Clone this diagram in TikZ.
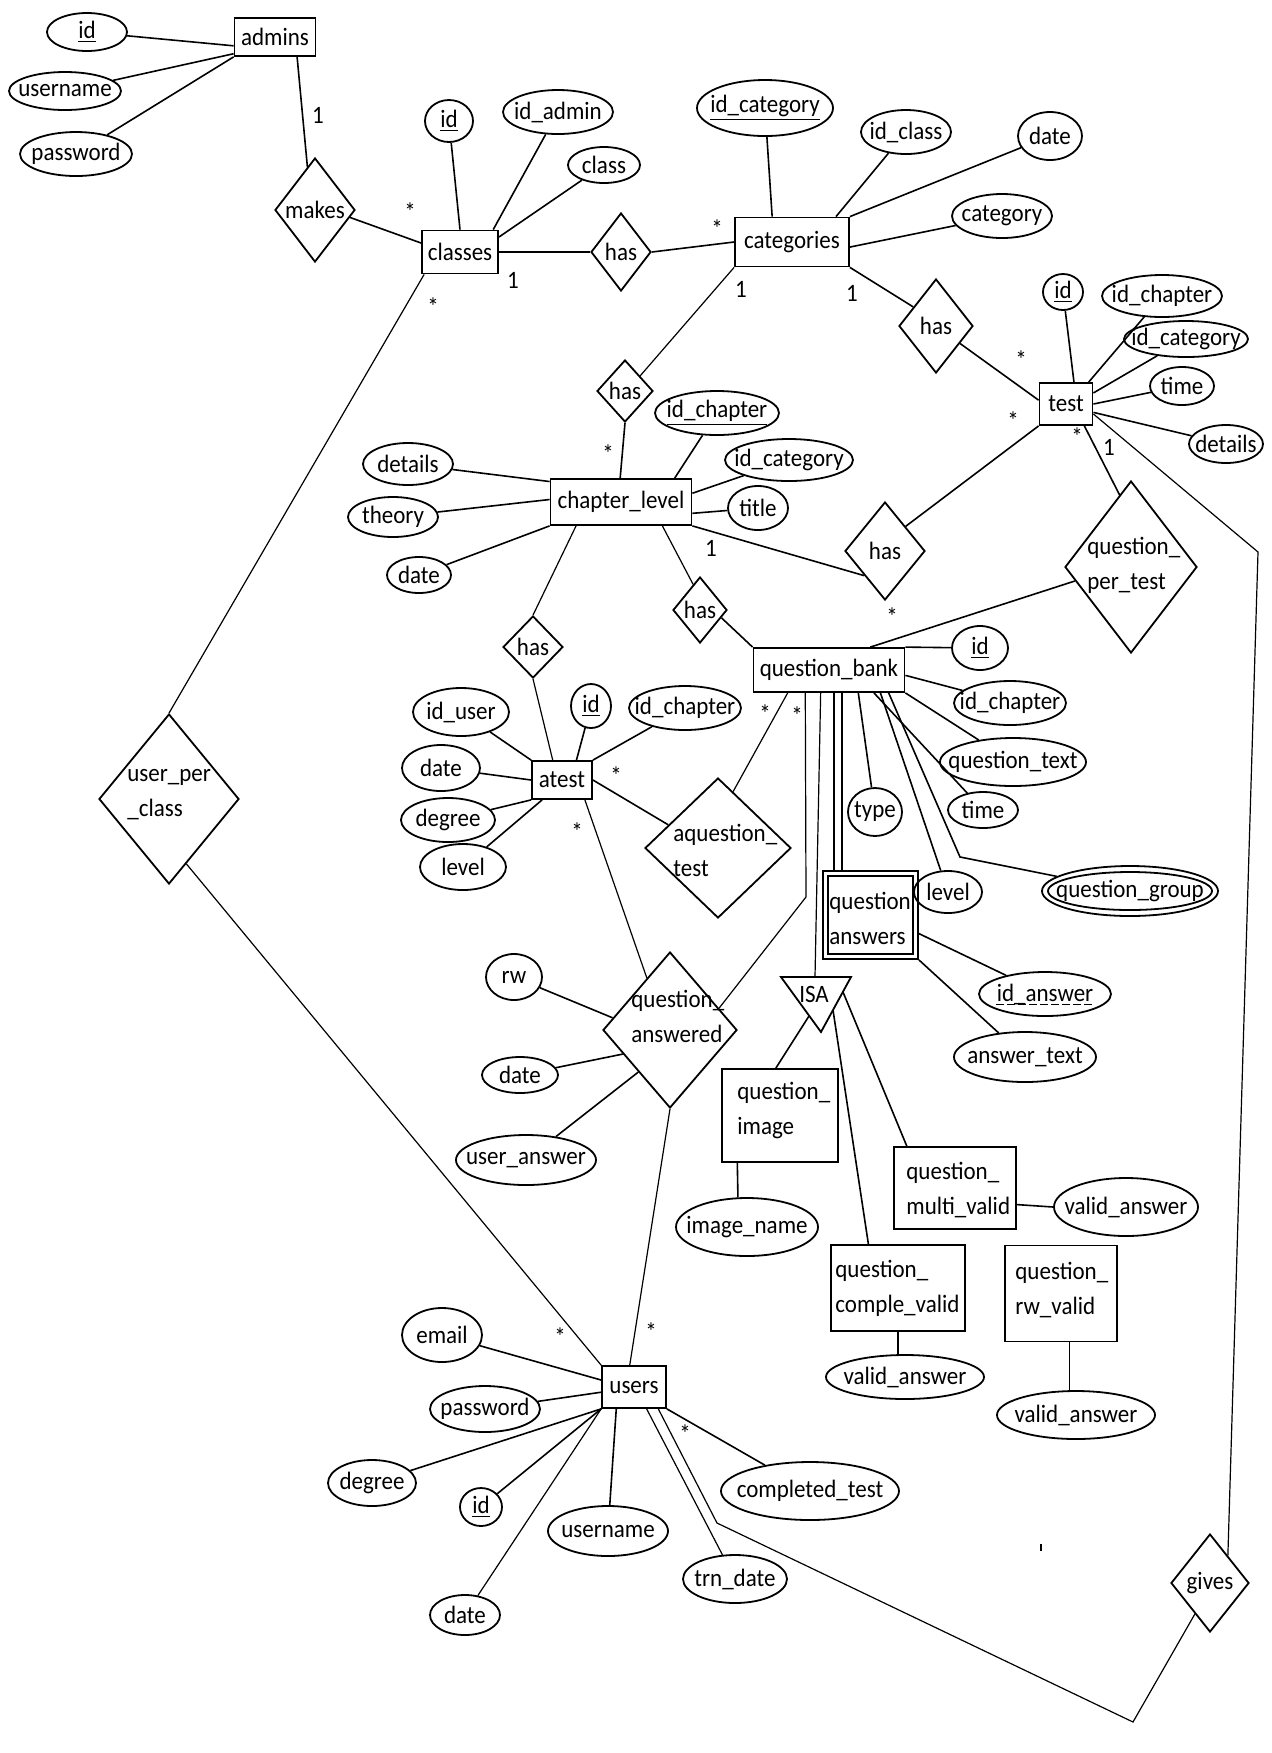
\documentclass[tikz,border=0pt]{standalone}
\usepackage{fontspec}
\setmainfont{Carlito}[FakeStretch=0.92]
\usetikzlibrary{shapes.geometric}
\newcommand\Ent[6]{\node[ent,minimum width=#4pt,minimum height=#5pt,label={center:#6}] (#1) at (#2,#3) {};}
\newcommand\Att[6]{\node[att,minimum width=#4pt,minimum height=#5pt,label={center:#6}] (#1) at (#2,#3) {};}
\newcommand\Rel[6]{\node[rel,minimum width=#4pt,minimum height=#5pt,label={center:#6}] (#1) at (#2,#3) {};}
\begin{document}
\begin{tikzpicture}[x=0.5pt,y=-0.5pt,
 font=\fontsize{12.5}{17.5}\selectfont,
 ent/.style={draw,rectangle,inner sep=0pt,line width=0.9pt},
 att/.style={draw,ellipse,inner sep=0pt,line width=0.9pt},
 rel/.style={draw,diamond,inner sep=0pt,line width=0.9pt},
 con/.style={line width=0.8pt},
 lite/.style={line width=0.6pt},
 card/.style={inner sep=0pt},
 txt/.style={inner sep=0pt,align=left,anchor=west},
 every label/.style={inner sep=0pt}]
\path[use as bounding box,fill=white] (0,0) rectangle (1272,1753);

% ---------- entities
\Ent{admins}{275}{37}{40.5}{19}{admins}
\Ent{classes}{460}{252}{38}{21.5}{classes}
\Ent{categories}{792}{242}{57}{24.5}{categories}
\Ent{test}{1066}{404}{26.5}{21}{test}
\Ent{chapter}{621}{502}{70.5}{23}{chapter\_level}
\Ent{qb}{829}{670}{75.5}{22}{question\_bank}
\Ent{atest}{562}{780}{30}{19}{atest}
\Ent{users}{634}{1387}{32}{21}{users}
\Ent{qi}{780}{1115.5}{58}{46.5}{}
\Ent{qmv}{955}{1188}{61}{41}{}
\Ent{qcv}{898}{1288}{67}{43}{}
\Ent{qrv}{1061}{1293.5}{56}{48}{}
\Ent{qans}{870.5}{915}{47.5}{44}{}
\node[ent,minimum width=42.5pt,minimum height=39pt] (qansin) at (870.5,915) {};

\node[txt] (qitxt) at (737,1110) {question\_\\image};
\node[txt] (qmvtxt) at (906,1190) {question\_\\multi\_valid};
\node[txt] (qcvtxt) at (835,1288) {question\_\\comple\_valid};
\node[txt] (qrvtxt) at (1015,1290) {question\_\\rw\_valid};
\node[txt] (qanstxt) at (829,918) {question\\answers};

% ---------- relationships
\Rel{makes}{315}{210}{40}{52}{makes}
\Rel{has1}{621}{252}{30}{39}{has}
\Rel{has2}{625}{391}{28}{31}{has}
\Rel{has3}{936}{326}{37}{47}{has}
\Rel{has4}{885}{551}{40}{49}{has}
\Rel{has5}{700}{610}{27}{33}{has}
\Rel{has6}{533}{647}{30}{31}{has}
\Rel{qpt}{1131}{567}{66}{86}{}
\Rel{aqt}{718}{848}{73}{70}{}
\Rel{qa}{670}{1030}{67}{78}{}
\Rel{upc}{169}{799}{70}{85}{}
\Rel{gives}{1210}{1583}{39}{49}{gives}

\node[txt] (qpttxt) at (1087,565) {question\_\\per\_test};
\node[txt] (aqttxt) at (673,850) {aquestion\_\\test};
\node[txt] (qatxt) at (631,1016) {question\_\\answered};
\node[txt] (upctxt) at (127,795) {user\_per\\\_class};

% ISA
\coordinate (isa1) at (781,977);
\coordinate (isa2) at (851,977);
\coordinate (isa3) at (821,1032);
\draw[line width=0.9pt] (isa1) -- (isa2) -- (isa3) -- cycle;
\node[inner sep=0pt] (isa) at (814,994) {ISA};
\coordinate (isaT) at (815,977);
\coordinate (isaL) at (809,1016);
\coordinate (isaR1) at (833,1010);
\coordinate (isaR2) at (843,992);

% ---------- attributes
\Att{a_id}{87}{32}{40}{19}{\underline{id}}
\Att{a_user}{65}{91}{56}{19}{username}
\Att{a_pass}{76}{154}{56}{22}{password}
\Att{c_id}{449}{121}{24}{21}{\underline{id}}
\Att{c_idadmin}{558}{112}{55}{22}{id\_admin}
\Att{c_class}{604}{165}{36}{18}{class}
\Att{cat_id}{765}{108}{68}{28}{\underline{id\_category}}
\Att{cat_idclass}{906}{132}{45}{22}{id\_class}
\Att{cat_date}{1050}{136}{32}{24}{date}
\Att{cat_cat}{1002}{216}{50}{22}{category}
\Att{t_id}{1063}{292}{20}{18}{\underline{id}}
\Att{t_idch}{1162}{296}{60}{21}{id\_chapter}
\Att{t_idcat}{1186}{339}{62}{18}{id\_category}
\Att{t_time}{1182}{386}{32}{19}{time}
\Att{t_det}{1226}{444}{37}{19}{details}
\Att{ch_id}{717}{413}{62}{22}{\underline{id\_chapter}}
\Att{ch_idcat}{789}{460}{64}{21}{id\_category}
\Att{ch_title}{758}{508}{30}{22}{title}
\Att{ch_det}{408}{464}{45}{21}{details}
\Att{ch_theory}{393}{517}{45}{20}{theory}
\Att{ch_date}{419}{575}{32}{18}{date}
\Att{at_iduser}{461}{712}{48}{24}{id\_user}
\Att{at_id}{591}{706}{20}{22}{\underline{id}}
\Att{at_idch}{685}{708}{56}{22}{id\_chapter}
\Att{at_date}{441}{768}{39}{23}{date}
\Att{at_degree}{448}{820}{47}{22}{degree}
\Att{at_level}{463}{867}{43}{23}{level}
\Att{q_id}{980}{648}{28}{22}{\underline{id}}
\Att{q_idch}{1010}{703}{56}{22}{id\_chapter}
\Att{q_text}{1013}{762}{73}{24}{question\_text}
\Att{q_time}{983}{810}{35}{18}{time}
\Att{q_type}{875}{812}{27}{24}{type}
\Att{q_level}{948}{892}{34}{21}{level}
\node[att,minimum width=88pt,minimum height=25pt] (q_group) at (1130,891) {};
\node[att,minimum width=82pt,minimum height=19pt,label={center:question\_group}] (q_groupin) at (1130,891) {};
\node[att,minimum width=66pt,minimum height=22pt,label={[name=ansidT]center:id\_answer}] (ans_id) at (1045,994) {};
\draw[line width=0.7pt,dash pattern=on 4pt off 1.5pt] ([yshift=-1.8pt]ansidT.base west) -- ([yshift=-1.8pt]ansidT.base east);
\Att{ans_text}{1025}{1057}{71}{25}{answer\_text}
\Att{rw}{514}{977}{28}{23}{rw}
\Att{qa_date}{520}{1075}{38}{18}{date}
\Att{qa_uans}{526}{1160}{70}{25}{user\_answer}
\Att{imgname}{747}{1227}{71}{29}{image\_name}
\Att{va1}{1126}{1207}{72}{29}{valid\_answer}
\Att{va2}{905}{1377}{79}{22}{valid\_answer}
\Att{va3}{1076}{1415}{79}{24}{valid\_answer}
\Att{u_email}{442}{1335}{40}{27}{email}
\Att{u_pass}{485}{1409}{55}{23}{password}
\Att{u_degree}{372}{1483}{44}{23}{degree}
\Att{u_id}{481}{1507}{21}{19}{\underline{id}}
\Att{u_date}{465}{1615}{35}{20}{date}
\Att{u_user}{608}{1531}{60}{25}{username}
\Att{u_trn}{735}{1579}{52}{24}{trn\_date}
\Att{u_comp}{810}{1491}{89}{29}{completed\_test}

% ---------- helper coordinates
\coordinate (gA) at (1258,552);
\coordinate (gC) at (717,1523);
\coordinate (gD) at (1133,1722);
\coordinate (qaB) at (806,897);
\coordinate (gB) at (960,857);

% ---------- connectors
\draw[con] (a_id) -- (admins.192);
\draw[con] (a_user) -- (admins.202);
\draw[con] (a_pass) -- (admins.south west);
\draw[con] (admins.-42) -- (makes.100);
\draw[con] (makes.-12) -- (classes.167);
\draw[con] (c_id) -- (classes.north);
\draw[con] (c_idadmin) -- (classes.34);
\draw[con] (c_class) -- (classes.21);
\draw[con] (classes.east) -- (has1.west);
\draw[con] (has1.east) -- (categories.west);
\draw[lite] (classes.212) -- (upc.north);
\draw[lite] (upc.-75) -- (users.north west);
\draw[con] (cat_id) -- (categories.128);
\draw[con] (cat_idclass) -- (categories.30);
\draw[con] (cat_date) -- (categories.north east);
\draw[con] (cat_cat) -- (categories.-5);
\draw[lite] (categories.south west) -- (has2.45);
\draw[con] (categories.south east) -- (has3.140);
\draw[con] (has3.-36) -- (test.172);
\draw[con] (t_id) -- (test.70);
\draw[con] (t_idch) -- (test.44);
\draw[con] (t_idcat) -- (test.22);
\draw[con] (t_time) -- (test.east);
\draw[con] (t_det) -- (test.-17);
\draw[con] (test.south west) -- (has4.50);
\draw[con] (test.-50) -- (qpt.99);
\draw[lite] (test.-20) -- (gA) -- (gives.57);
\draw[con] (ch_id) -- (chapter.24);
\draw[con] (ch_idcat) -- (chapter.7);
\draw[con] (ch_title) -- (chapter.-9);
\draw[con] (ch_det) -- (chapter.164);
\draw[con] (ch_theory) -- (chapter.178);
\draw[con] (ch_date) -- (chapter.south west);
\draw[con] (has2.south) -- (chapter.92);
\draw[con] (chapter.south east) -- (has4.230);
\draw[lite] (chapter.-30) -- (has5.105);
\draw[con] (has5.-20) -- (qb.north west);
\draw[lite] (chapter.208) -- (has6.north);
\draw[lite] (has6.south) -- (atest.115);
\draw[con] (at_iduser) -- (atest.north west);
\draw[con] (at_id) -- (atest.54);
\draw[con] (at_idch) -- (atest.north east);
\draw[con] (at_date) -- (atest.west);
\draw[con] (at_degree) -- (atest.south west);
\draw[con] (at_level) -- (atest.225);
\draw[con] (atest.east) -- (aqt.155);
\draw[lite] (aqt.75) -- (qb.209);
\draw[lite] (atest.-41) -- (qa.114);
\draw[con] (q_id) -- (qb.north east);
\draw[con] (q_idch) -- (qb.-4);
\draw[con] (q_text) -- (qb.south east);
\draw[con] (qpt.194) -- (qb.29);
\draw[lite] (qb.224) -- (qaB) -- (qa.24);
\draw[lite] (qb.250) -- (isaT);
\draw[con] (qb.283) -- (qb.283 |- qans.north);
\draw[con] (qb.299) -- (qb.299 |- qans.north);
\draw[con] (qb.-38) -- (q_type);
\draw[con] (qb.-27) -- (q_time);
\draw[con] (qb.-24) -- (q_level);
\draw[con] (qb.-21) -- (gB) -- (q_group);
\draw[con] (qans.-21) -- (ans_id);
\draw[con] (qans.south east) -- (ans_text);
\draw[con] (isaL) -- (qi.95);
\draw[con] (isaR1) -- (qcv.124);
\draw[con] (isaR2) -- (qmv.139);
\draw[con] (qi.228) -- (imgname.107);
\draw[con] (qmv.-15) -- (va1.west);
\draw[con] (qcv.south) -- (qcv.south |- va2.north);
\draw[con] (qrv.-80) -- (qrv.-80 |- va3.north);
\draw[con] (rw) -- (qa.168);
\draw[con] (qa_date) -- (qa.207);
\draw[con] (qa_uans) -- (qa.233);
\draw[lite] (qa.south) -- (users.101);
\draw[con] (u_email) -- (users.168);
\draw[con] (u_pass) -- (users.189);
\draw[con] (u_degree) -- (users.south west);
\draw[con] (u_id) -- (users.south west);
\draw[lite] (u_date) -- (users.south west);
\draw[con] (u_user) -- (users.231);
\draw[lite] (u_trn) -- (users.-60);
\draw[con] (u_comp) -- (users.south east);
\draw[lite] (users.-42) -- (gC) -- (gD) -- (gives.244);
\draw[line width=0.8pt] (1041,1544) -- (1041,1551);

% ---------- cardinalities
\node[card] (m1) at (318,115) {1};
\node[card] (m2) at (410,212) {*};
\node[card] (m3) at (513,280) {1};
\node[card] (m4) at (433,307) {*};
\node[card] (m5) at (717,229) {*};
\node[card] (m6) at (741,289) {1};
\node[card] (m7) at (852,293) {1};
\node[card] (m8) at (1021,360) {*};
\node[card] (m9) at (1013,421) {*};
\node[card] (m10) at (1077,437) {*};
\node[card] (m11) at (1109,447) {1};
\node[card] (m12) at (608,454) {*};
\node[card] (m13) at (711,548) {1};
\node[card] (m14) at (892,617) {*};
\node[card] (m15) at (765,714) {*};
\node[card] (m16) at (797,716) {*};
\node[card] (m17) at (616,776) {*};
\node[card] (m18) at (577,832) {*};
\node[card] (m19) at (560,1337) {*};
\node[card] (m20) at (651,1332) {*};
\node[card] (m21) at (685,1434) {*};
\end{tikzpicture}
\end{document}
